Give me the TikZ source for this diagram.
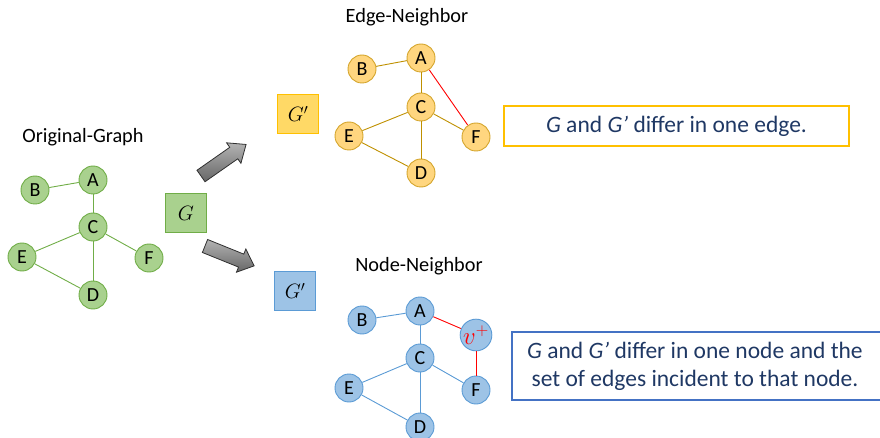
\documentclass[tikz,border=0pt]{standalone}
\usepackage{fontspec}
\setmainfont{Carlito}
\definecolor{gfill}{HTML}{A9D18E}
\definecolor{gline}{HTML}{70AD47}
\definecolor{ofill}{HTML}{FFD67F}
\definecolor{oline}{HTML}{D4A52C}
\definecolor{oedge}{HTML}{BF9000}
\definecolor{bfill}{HTML}{9DC3E6}
\definecolor{bline}{HTML}{5B9BD5}
\definecolor{ybox}{HTML}{FFC000}
\definecolor{yfill}{HTML}{FFD966}
\definecolor{bbox}{HTML}{4472C4}
\definecolor{navy}{HTML}{1F3864}
\definecolor{arrgray}{HTML}{808080}
\definecolor{arrline}{HTML}{303030}
\begin{document}
\begin{tikzpicture}[x=1pt,y=-1pt,
  font=\fontsize{20}{24}\selectfont,
  gnode/.style={circle, draw=gline, fill=gfill, minimum size=28pt, inner sep=0pt, line width=0.9pt},
  onode/.style={circle, draw=oline, fill=ofill, minimum size=28pt, inner sep=0pt, line width=0.9pt},
  bnode/.style={circle, draw=bline, fill=bfill, minimum size=28pt, inner sep=0pt, line width=0.9pt},
  gedge/.style={draw=gline, line width=0.9pt},
  oedge/.style={draw=oedge, line width=0.9pt},
  bedge/.style={draw=bline, line width=0.9pt},
  redge/.style={draw=red, line width=0.9pt},
  title/.style={font=\fontsize{20.3}{24}\selectfont},
  gbox/.style={draw, line width=1pt, minimum width=41pt, minimum height=39pt, inner sep=0pt, font=\fontsize{22}{24}\selectfont},
  blockarrow/.style={draw=arrline, line width=0.8pt, line join=miter, shading=axis, top color=arrgray!60, bottom color=arrgray!80!black},
  textbox/.style={draw, line width=1.2pt, text=navy, font=\fontsize{23.5}{28}\selectfont, align=center, inner sep=0pt}
]
\useasboundingbox (0,0) rectangle (880,438);

% Original graph
\node[title] (tOrig) at (83,137) {Original-Graph};
\node[gnode] (gA) at (93,180) {A};
\node[gnode] (gB) at (35,190) {B};
\node[gnode] (gC) at (93,227) {C};
\node[gnode] (gE) at (22,257) {E};
\node[gnode] (gF) at (149,258) {F};
\node[gnode] (gD) at (93,295) {D};
\draw[gedge] (gB) -- (gA);
\draw[gedge] (gA) -- (gC);
\draw[gedge] (gC) -- (gE);
\draw[gedge] (gC) -- (gF);
\draw[gedge] (gC) -- (gD);
\draw[gedge] (gE) -- (gD);

\node[gbox, draw=gline, fill=gfill] (G) at (186,213) {$G$};

% block arrows
\begin{scope}[shift={(201,176)}, rotate=35]
  \draw[blockarrow] (0,-7) -- (40,-7) -- (40,-12.5) -- (55,0) -- (40,12.5) -- (40,7) -- (0,7) -- cycle;
\end{scope}
\begin{scope}[shift={(205,246)}, rotate=-22]
  \draw[blockarrow] (0,-7) -- (39,-7) -- (39,-12.5) -- (53,0) -- (39,12.5) -- (39,7) -- (0,7) -- cycle;
\end{scope}

% Edge neighbor
\node[title] (tEdge) at (407,17) {Edge-Neighbor};
\node[gbox, draw=ybox, fill=yfill] (Gp1) at (298,114) {$G'$};
\node[onode] (oA) at (421,58) {A};
\node[onode] (oB) at (362,69) {B};
\node[onode] (oC) at (421,107) {C};
\node[onode] (oE) at (349,136) {E};
\node[onode] (oF) at (476,137) {F};
\node[onode] (oD) at (421,173) {D};
\draw[oedge] (oB) -- (oA);
\draw[oedge] (oA) -- (oC);
\draw[oedge] (oC) -- (oE);
\draw[oedge] (oC) -- (oF);
\draw[oedge] (oC) -- (oD);
\draw[oedge] (oE) -- (oD);
\draw[redge] (oA) -- (oF);
\node[textbox, draw=ybox, minimum width=345pt, minimum height=40pt] (txtEdge) at (676.5,126) {\textit{G} and \textit{G'} differ in one edge.};

% Node neighbor
\node[title] (tNode) at (419,266) {Node-Neighbor};
\node[gbox, draw=bline, fill=bfill] (Gp2) at (295,291) {$G'$};
\node[bnode] (bA) at (420,311) {A};
\node[bnode] (bB) at (362,320) {B};
\node[bnode, font=\fontsize{26}{28}\selectfont] (bV) at (476,335) {\textcolor{red}{$v^{+}$}};
\node[bnode] (bC) at (420,358) {C};
\node[bnode] (bE) at (349,388) {E};
\node[bnode] (bF) at (476,390) {F};
\node[bnode] (bD) at (420,427) {D};
\draw[bedge] (bB) -- (bA);
\draw[bedge] (bA) -- (bC);
\draw[bedge] (bC) -- (bE);
\draw[bedge] (bC) -- (bF);
\draw[bedge] (bC) -- (bD);
\draw[bedge] (bE) -- (bD);
\draw[redge] (bA) -- (bV);
\draw[redge] (bV) -- (bF);
\node[textbox, draw=bbox, minimum width=374pt, minimum height=68pt] (txtNode) at (699,366) {\hspace*{-8pt}\textit{G} and \textit{G'} differ in one node and the\\\hspace*{-8pt}set of edges incident to that node.};
\end{tikzpicture}
\end{document}
